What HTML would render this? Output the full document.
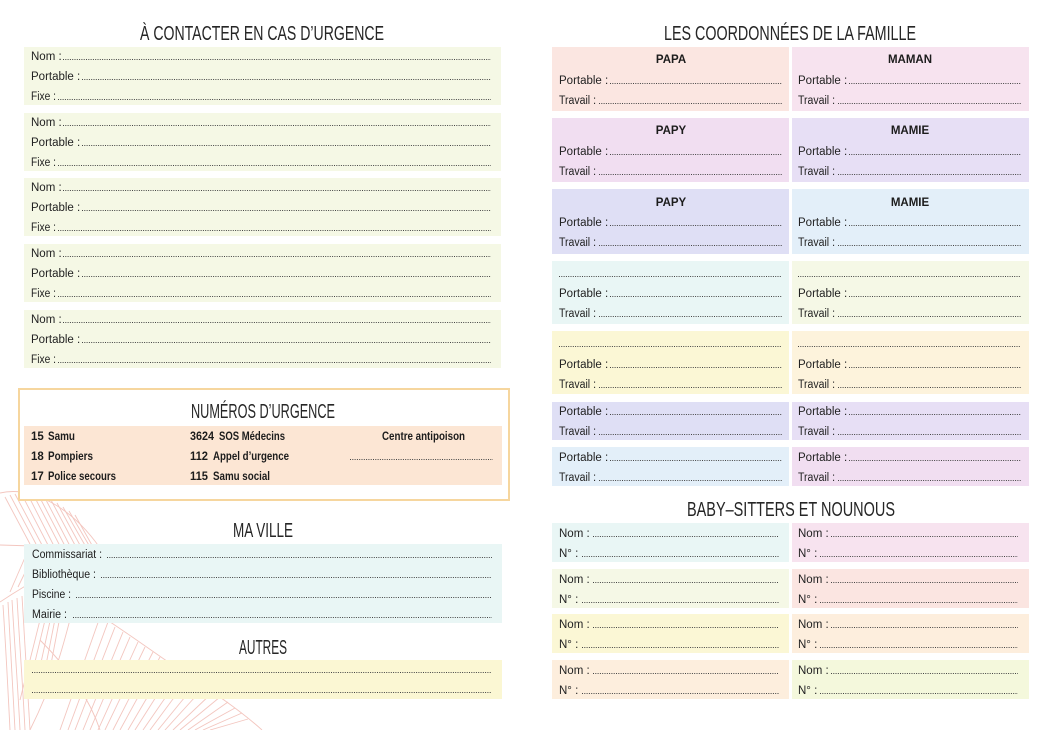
<!DOCTYPE html>
<html><head><meta charset="utf-8">
<style>
html,body{margin:0;padding:0;background:#fff;}
svg{display:block;}
.t{font-family:"Liberation Sans",sans-serif;font-size:11.5px;fill:#222;}
.b{font-family:"Liberation Sans",sans-serif;font-size:11.5px;font-weight:bold;fill:#1c1c1c;}
.h{font-family:"Liberation Sans",sans-serif;font-size:20px;fill:#262626;}
.d{stroke:#444;stroke-width:1;stroke-dasharray:1 1.3;}
.lf{stroke:#f3c6bf;stroke-width:0.9;fill:none;}
</style></head>
<body>
<svg width="1054" height="730" viewBox="0 0 1054 730" xmlns="http://www.w3.org/2000/svg">
<rect width="1054" height="730" fill="#fff"/>

<!-- leaves -->
<g class="lf">
<path d="M0,493 C30,486 70,505 100,548"/>
<path d="M0,602 C30,582 70,560 100,548"/>
<path d="M0,545 L100,548"/>
<path d="M5,497 L30,544"/><path d="M10,495 L36,544"/><path d="M15,494 L42,545"/><path d="M21,493 L48,545"/><path d="M27,493 L54,546"/>
<path d="M33,494 L60,546"/><path d="M39,496 L65,546"/><path d="M45,498 L70,546"/><path d="M51,500 L76,547"/><path d="M57,503 L81,547"/><path d="M63,507 L86,547"/><path d="M69,511 L90,547"/><path d="M75,515 L93,547"/>
<path d="M10,592 L30,546"/><path d="M18,587 L38,546"/><path d="M25,582 L45,546"/><path d="M33,578 L52,547"/><path d="M40,574 L60,547"/><path d="M48,570 L66,547"/><path d="M55,566 L72,547"/><path d="M63,563 L78,548"/><path d="M70,560 L84,548"/>
<path d="M3,605 C6,650 8,690 10,730"/><path d="M8,602 C11,650 13,690 15,730"/><path d="M12,600 C15,650 18,690 20,730"/><path d="M17,598 C20,650 23,690 25,730"/><path d="M22,596 C25,650 28,690 30,730"/>
<path d="M75,600 C110,620 150,650 180,670 C210,690 240,710 262,730"/>
<path d="M40,640 C70,670 90,700 100,730"/>
<path d="M30,730 C55,680 65,640 75,600"/>
<path d="M60,730 L100,617"/><path d="M68,730 L108,622"/><path d="M75,730 L115,627"/><path d="M83,730 L123,632"/><path d="M90,730 L130,637"/><path d="M98,730 L138,642"/><path d="M105,730 L145,647"/>
<path d="M113,730 L153,652"/><path d="M120,730 L160,657"/><path d="M128,730 L168,662"/><path d="M135,730 L175,667"/><path d="M143,730 L183,672"/><path d="M150,730 L190,676"/><path d="M158,730 L198,681"/><path d="M165,730 L205,686"/>
<path d="M173,730 L213,692"/><path d="M180,730 L220,697"/><path d="M188,730 L228,702"/><path d="M195,730 L235,708"/><path d="M203,730 L242,713"/><path d="M210,730 L248,719"/>
<path d="M40,620 L20,700"/><path d="M46,616 L27,695"/><path d="M52,612 L35,690"/><path d="M57,609 L42,685"/><path d="M62,606 L48,680"/>
</g>

<!-- LEFT PAGE -->
<text class="h" x="140" y="40" textLength="244" lengthAdjust="spacingAndGlyphs">À CONTACTER EN CAS D’URGENCE</text>

<g>
<rect x="24" y="47" width="477" height="58" fill="#f5f8e5"/>
<rect x="24" y="113" width="477" height="58" fill="#f5f8e5"/>
<rect x="24" y="178" width="477" height="58" fill="#f5f8e5"/>
<rect x="24" y="244" width="477" height="58" fill="#f5f8e5"/>
<rect x="24" y="310" width="477" height="58" fill="#f5f8e5"/>
</g>
<g>
<text class="t" x="31" y="60">Nom :</text><line class="d" x1="63" x2="491" y1="59.5" y2="59.5"/>
<text class="t" x="31" y="80">Portable :</text><line class="d" x1="82" x2="491" y1="79.5" y2="79.5"/>
<text class="t" x="31" y="100" textLength="25" lengthAdjust="spacingAndGlyphs">Fixe :</text><line class="d" x1="58" x2="491" y1="99.5" y2="99.5"/>

<text class="t" x="31" y="126">Nom :</text><line class="d" x1="63" x2="491" y1="125.5" y2="125.5"/>
<text class="t" x="31" y="146">Portable :</text><line class="d" x1="82" x2="491" y1="145.5" y2="145.5"/>
<text class="t" x="31" y="166" textLength="25" lengthAdjust="spacingAndGlyphs">Fixe :</text><line class="d" x1="58" x2="491" y1="165.5" y2="165.5"/>

<text class="t" x="31" y="191">Nom :</text><line class="d" x1="63" x2="491" y1="190.5" y2="190.5"/>
<text class="t" x="31" y="211">Portable :</text><line class="d" x1="82" x2="491" y1="210.5" y2="210.5"/>
<text class="t" x="31" y="231" textLength="25" lengthAdjust="spacingAndGlyphs">Fixe :</text><line class="d" x1="58" x2="491" y1="230.5" y2="230.5"/>

<text class="t" x="31" y="257">Nom :</text><line class="d" x1="63" x2="491" y1="256.5" y2="256.5"/>
<text class="t" x="31" y="277">Portable :</text><line class="d" x1="82" x2="491" y1="276.5" y2="276.5"/>
<text class="t" x="31" y="297" textLength="25" lengthAdjust="spacingAndGlyphs">Fixe :</text><line class="d" x1="58" x2="491" y1="296.5" y2="296.5"/>

<text class="t" x="31" y="323">Nom :</text><line class="d" x1="63" x2="491" y1="322.5" y2="322.5"/>
<text class="t" x="31" y="343">Portable :</text><line class="d" x1="82" x2="491" y1="342.5" y2="342.5"/>
<text class="t" x="31" y="363" textLength="25" lengthAdjust="spacingAndGlyphs">Fixe :</text><line class="d" x1="58" x2="491" y1="362.5" y2="362.5"/>
</g>

<!-- Numéros d'urgence -->
<rect x="19" y="389" width="490" height="111" fill="#fff" stroke="#f6d69e" stroke-width="2"/>
<text class="h" x="191" y="418" textLength="144" lengthAdjust="spacingAndGlyphs">NUMÉROS D’URGENCE</text>
<rect x="24" y="426" width="478" height="59" fill="#fce6d4"/>
<text class="b" x="31" y="440">15</text><text class="b" x="48" y="440" textLength="27" lengthAdjust="spacingAndGlyphs">Samu</text>
<text class="b" x="31" y="460">18</text><text class="b" x="48" y="460" textLength="45" lengthAdjust="spacingAndGlyphs">Pompiers</text>
<text class="b" x="31" y="480">17</text><text class="b" x="48" y="480" textLength="68" lengthAdjust="spacingAndGlyphs">Police secours</text>
<text class="b" x="190" y="440" textLength="24" lengthAdjust="spacingAndGlyphs">3624</text><text class="b" x="219" y="440" textLength="66" lengthAdjust="spacingAndGlyphs">SOS Médecins</text>
<text class="b" x="190" y="460" textLength="18" lengthAdjust="spacingAndGlyphs">112</text><text class="b" x="213" y="460" textLength="76" lengthAdjust="spacingAndGlyphs">Appel d’urgence</text>
<text class="b" x="190" y="480" textLength="18" lengthAdjust="spacingAndGlyphs">115</text><text class="b" x="213" y="480" textLength="57" lengthAdjust="spacingAndGlyphs">Samu social</text>
<text class="b" x="382" y="440" textLength="83" lengthAdjust="spacingAndGlyphs">Centre antipoison</text>
<line class="d" x1="350" x2="493" y1="459.5" y2="459.5"/>

<!-- Ma ville -->
<text class="h" x="233" y="537" textLength="60" lengthAdjust="spacingAndGlyphs">MA VILLE</text>
<rect x="24" y="544" width="478" height="79" fill="#e9f6f5"/>
<text class="t" x="32" y="558" textLength="70" lengthAdjust="spacingAndGlyphs">Commissariat :</text><line class="d" x1="107" x2="492" y1="557.5" y2="557.5"/>
<text class="t" x="32" y="578" textLength="64" lengthAdjust="spacingAndGlyphs">Bibliothèque :</text><line class="d" x1="101" x2="492" y1="577.5" y2="577.5"/>
<text class="t" x="32" y="598" textLength="39" lengthAdjust="spacingAndGlyphs">Piscine :</text><line class="d" x1="76" x2="492" y1="597.5" y2="597.5"/>
<text class="t" x="32" y="618" textLength="35" lengthAdjust="spacingAndGlyphs">Mairie :</text><line class="d" x1="73" x2="492" y1="617.5" y2="617.5"/>

<!-- Autres -->
<text class="h" x="239" y="654" textLength="48" lengthAdjust="spacingAndGlyphs">AUTRES</text>
<rect x="24" y="660" width="478" height="39" fill="#fbf7d3"/>
<line class="d" x1="32" x2="492" y1="672.5" y2="672.5"/>
<line class="d" x1="32" x2="492" y1="692.5" y2="692.5"/>

<!-- RIGHT PAGE -->
<text class="h" x="664" y="40" textLength="252" lengthAdjust="spacingAndGlyphs">LES COORDONNÉES DE LA FAMILLE</text>

<rect x="552" y="47" width="237" height="64" fill="#fbe6e1"/>
<rect x="792" y="47" width="237" height="64" fill="#f7e3ef"/>
<rect x="552" y="118" width="237" height="64" fill="#f1def1"/>
<rect x="792" y="118" width="237" height="64" fill="#e7dff5"/>
<rect x="552" y="189" width="237" height="65" fill="#dfdff5"/>
<rect x="792" y="189" width="237" height="65" fill="#e3eff9"/>
<rect x="552" y="261" width="237" height="63" fill="#e9f6f5"/>
<rect x="792" y="261" width="237" height="63" fill="#f5f8e6"/>
<rect x="552" y="331" width="237" height="63" fill="#fbf7d5"/>
<rect x="792" y="331" width="237" height="63" fill="#fdf3dc"/>
<rect x="552" y="402" width="237" height="38" fill="#dfdff5"/>
<rect x="792" y="402" width="237" height="38" fill="#e7dff5"/>
<rect x="552" y="447" width="237" height="39" fill="#e3eff9"/>
<rect x="792" y="447" width="237" height="39" fill="#f1def1"/>

<text class="b" x="671" y="63" text-anchor="middle">PAPA</text>
<text class="b" x="910" y="63" text-anchor="middle">MAMAN</text>
<text class="b" x="671" y="134" text-anchor="middle">PAPY</text>
<text class="b" x="910" y="134" text-anchor="middle">MAMIE</text>
<text class="b" x="671" y="206" text-anchor="middle">PAPY</text>
<text class="b" x="910" y="206" text-anchor="middle">MAMIE</text>

<g>
<!-- row1 -->
<text class="t" x="559" y="84">Portable :</text><line class="d" x1="610" x2="782" y1="83.5" y2="83.5"/>
<text class="t" x="559" y="104" textLength="37" lengthAdjust="spacingAndGlyphs">Travail :</text><line class="d" x1="599" x2="782" y1="103.5" y2="103.5"/>
<text class="t" x="798" y="84">Portable :</text><line class="d" x1="849" x2="1021" y1="83.5" y2="83.5"/>
<text class="t" x="798" y="104" textLength="37" lengthAdjust="spacingAndGlyphs">Travail :</text><line class="d" x1="838" x2="1021" y1="103.5" y2="103.5"/>
<!-- row2 -->
<text class="t" x="559" y="155">Portable :</text><line class="d" x1="610" x2="782" y1="154.5" y2="154.5"/>
<text class="t" x="559" y="175" textLength="37" lengthAdjust="spacingAndGlyphs">Travail :</text><line class="d" x1="599" x2="782" y1="174.5" y2="174.5"/>
<text class="t" x="798" y="155">Portable :</text><line class="d" x1="849" x2="1021" y1="154.5" y2="154.5"/>
<text class="t" x="798" y="175" textLength="37" lengthAdjust="spacingAndGlyphs">Travail :</text><line class="d" x1="838" x2="1021" y1="174.5" y2="174.5"/>
<!-- row3 -->
<text class="t" x="559" y="226">Portable :</text><line class="d" x1="610" x2="782" y1="225.5" y2="225.5"/>
<text class="t" x="559" y="246" textLength="37" lengthAdjust="spacingAndGlyphs">Travail :</text><line class="d" x1="599" x2="782" y1="245.5" y2="245.5"/>
<text class="t" x="798" y="226">Portable :</text><line class="d" x1="849" x2="1021" y1="225.5" y2="225.5"/>
<text class="t" x="798" y="246" textLength="37" lengthAdjust="spacingAndGlyphs">Travail :</text><line class="d" x1="838" x2="1021" y1="245.5" y2="245.5"/>
<!-- row4 -->
<line class="d" x1="559" x2="782" y1="276.5" y2="276.5"/>
<line class="d" x1="798" x2="1021" y1="276.5" y2="276.5"/>
<text class="t" x="559" y="297">Portable :</text><line class="d" x1="610" x2="782" y1="296.5" y2="296.5"/>
<text class="t" x="559" y="317" textLength="37" lengthAdjust="spacingAndGlyphs">Travail :</text><line class="d" x1="599" x2="782" y1="316.5" y2="316.5"/>
<text class="t" x="798" y="297">Portable :</text><line class="d" x1="849" x2="1021" y1="296.5" y2="296.5"/>
<text class="t" x="798" y="317" textLength="37" lengthAdjust="spacingAndGlyphs">Travail :</text><line class="d" x1="838" x2="1021" y1="316.5" y2="316.5"/>
<!-- row5 -->
<line class="d" x1="559" x2="782" y1="346.5" y2="346.5"/>
<line class="d" x1="798" x2="1021" y1="346.5" y2="346.5"/>
<text class="t" x="559" y="368">Portable :</text><line class="d" x1="610" x2="782" y1="367.5" y2="367.5"/>
<text class="t" x="559" y="388" textLength="37" lengthAdjust="spacingAndGlyphs">Travail :</text><line class="d" x1="599" x2="782" y1="387.5" y2="387.5"/>
<text class="t" x="798" y="368">Portable :</text><line class="d" x1="849" x2="1021" y1="367.5" y2="367.5"/>
<text class="t" x="798" y="388" textLength="37" lengthAdjust="spacingAndGlyphs">Travail :</text><line class="d" x1="838" x2="1021" y1="387.5" y2="387.5"/>
<!-- row6 -->
<text class="t" x="559" y="415">Portable :</text><line class="d" x1="610" x2="782" y1="414.5" y2="414.5"/>
<text class="t" x="559" y="435" textLength="37" lengthAdjust="spacingAndGlyphs">Travail :</text><line class="d" x1="599" x2="782" y1="434.5" y2="434.5"/>
<text class="t" x="798" y="415">Portable :</text><line class="d" x1="849" x2="1021" y1="414.5" y2="414.5"/>
<text class="t" x="798" y="435" textLength="37" lengthAdjust="spacingAndGlyphs">Travail :</text><line class="d" x1="838" x2="1021" y1="434.5" y2="434.5"/>
<!-- row7 -->
<text class="t" x="559" y="461">Portable :</text><line class="d" x1="610" x2="782" y1="460.5" y2="460.5"/>
<text class="t" x="559" y="481" textLength="37" lengthAdjust="spacingAndGlyphs">Travail :</text><line class="d" x1="599" x2="782" y1="480.5" y2="480.5"/>
<text class="t" x="798" y="461">Portable :</text><line class="d" x1="849" x2="1021" y1="460.5" y2="460.5"/>
<text class="t" x="798" y="481" textLength="37" lengthAdjust="spacingAndGlyphs">Travail :</text><line class="d" x1="838" x2="1021" y1="480.5" y2="480.5"/>
</g>

<!-- Baby-sitters -->
<text class="h" x="687" y="516" textLength="208" lengthAdjust="spacingAndGlyphs">BABY–SITTERS ET NOUNOUS</text>
<rect x="552" y="523" width="237" height="39" fill="#e9f6f5"/>
<rect x="792" y="523" width="237" height="39" fill="#f7e3ef"/>
<rect x="552" y="569" width="237" height="39" fill="#f5f8e6"/>
<rect x="792" y="569" width="237" height="39" fill="#fbe5e1"/>
<rect x="552" y="614" width="237" height="39" fill="#fbf7d5"/>
<rect x="792" y="614" width="237" height="39" fill="#fdeedd"/>
<rect x="552" y="660" width="237" height="39" fill="#fdeedd"/>
<rect x="792" y="660" width="237" height="39" fill="#f4f8dc"/>

<g>
<text class="t" x="559" y="537">Nom :</text><line class="d" x1="593" x2="779" y1="536.5" y2="536.5"/>
<text class="t" x="559" y="557">N° :</text><line class="d" x1="582" x2="779" y1="556.5" y2="556.5"/>
<text class="t" x="798" y="537">Nom :</text><line class="d" x1="831" x2="1018" y1="536.5" y2="536.5"/>
<text class="t" x="798" y="557">N° :</text><line class="d" x1="820" x2="1018" y1="556.5" y2="556.5"/>

<text class="t" x="559" y="583">Nom :</text><line class="d" x1="593" x2="779" y1="582.5" y2="582.5"/>
<text class="t" x="559" y="603">N° :</text><line class="d" x1="582" x2="779" y1="602.5" y2="602.5"/>
<text class="t" x="798" y="583">Nom :</text><line class="d" x1="831" x2="1018" y1="582.5" y2="582.5"/>
<text class="t" x="798" y="603">N° :</text><line class="d" x1="820" x2="1018" y1="602.5" y2="602.5"/>

<text class="t" x="559" y="628">Nom :</text><line class="d" x1="593" x2="779" y1="627.5" y2="627.5"/>
<text class="t" x="559" y="648">N° :</text><line class="d" x1="582" x2="779" y1="647.5" y2="647.5"/>
<text class="t" x="798" y="628">Nom :</text><line class="d" x1="831" x2="1018" y1="627.5" y2="627.5"/>
<text class="t" x="798" y="648">N° :</text><line class="d" x1="820" x2="1018" y1="647.5" y2="647.5"/>

<text class="t" x="559" y="674">Nom :</text><line class="d" x1="593" x2="779" y1="673.5" y2="673.5"/>
<text class="t" x="559" y="694">N° :</text><line class="d" x1="582" x2="779" y1="693.5" y2="693.5"/>
<text class="t" x="798" y="674">Nom :</text><line class="d" x1="831" x2="1018" y1="673.5" y2="673.5"/>
<text class="t" x="798" y="694">N° :</text><line class="d" x1="820" x2="1018" y1="693.5" y2="693.5"/>
</g>
</svg>
</body></html>
